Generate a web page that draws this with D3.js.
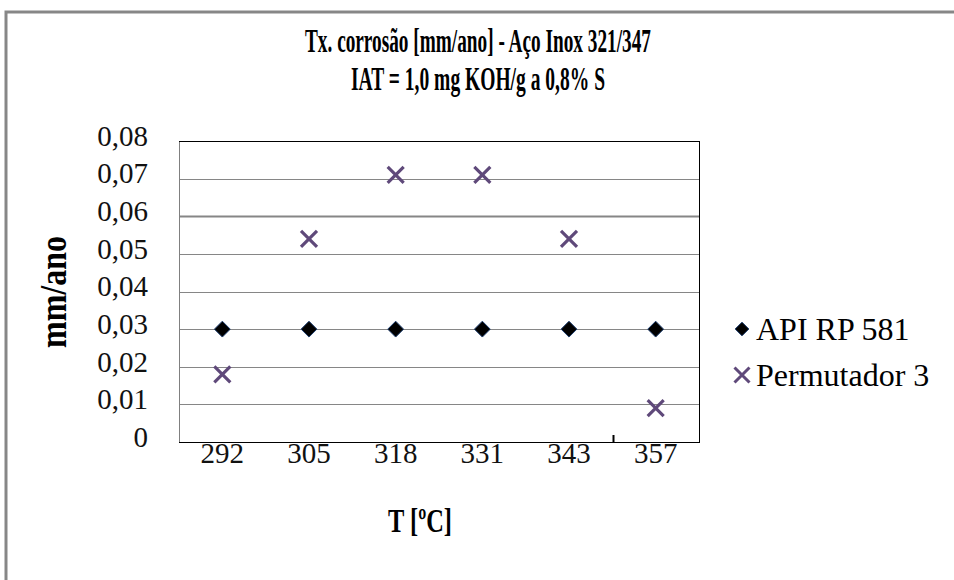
<!DOCTYPE html>
<html>
<head>
<meta charset="utf-8">
<script src="https://cdn.jsdelivr.net/npm/d3@7"></script>
<style>
  html, body { margin: 0; padding: 0; background: #fff; }
  svg { display: block; }
  svg text { font-family: "Liberation Serif", "Times New Roman", Times, serif; }
</style>
</head>
<body>
<svg id="chart" width="954" height="580"></svg>
<script>
// Corrosion rate per temperature, stainless steel 321/347
const temperatures = ["292", "305", "318", "331", "343", "357"];
const apiRp581 = [0.03, 0.03, 0.03, 0.03, 0.03, 0.03];
const permutador3 = [0.018, 0.054, 0.071, 0.071, 0.054, 0.009];
const yTicks = [0, 0.01, 0.02, 0.03, 0.04, 0.05, 0.06, 0.07, 0.08];
const seriesNames = ["API RP 581", "Permutador 3"];

const svg = d3.select("#chart");
const plot = { left: 179, right: 699, top: 141, bottom: 442 };

const x = d3.scaleBand().domain(temperatures).range([plot.left, plot.right]);
const y = d3.scaleLinear().domain([0, 0.08]).range([plot.bottom, plot.top]);
const fmt = v => v === 0 ? "0" : d3.format(".2f")(v).replace(".", ",");

// outer chart frame
svg.append("rect")
  .attr("x", 6).attr("y", 12).attr("width", 1000).attr("height", 700)
  .attr("fill", "none").attr("stroke", "#878787").attr("stroke-width", 3);

// title
const title = svg.append("text")
  .attr("text-anchor", "middle").attr("font-weight", "bold").attr("font-size", 34)
  .attr("fill", "#000");
title.append("tspan").attr("x", 478).attr("y", 52)
  .attr("textLength", 346).attr("lengthAdjust", "spacingAndGlyphs")
  .text("Tx. corrosão [mm/ano] - Aço Inox 321/347");
title.append("tspan").attr("x", 478).attr("y", 90)
  .attr("textLength", 254).attr("lengthAdjust", "spacingAndGlyphs")
  .text("IAT = 1,0 mg KOH/g a 0,8% S");

// gridlines
svg.append("g").selectAll("line").data(yTicks.filter(d => d > 0 && d < 0.08)).join("line")
  .attr("x1", plot.left).attr("x2", plot.right)
  .attr("y1", d => Math.round(y(d)) + 0.5).attr("y2", d => Math.round(y(d)) + 0.5)
  .attr("stroke", "#868686").attr("stroke-width", d => d === 0.06 ? 2 : 1);

// plot frame
svg.append("rect")
  .attr("x", plot.left + 0.5).attr("y", plot.top + 0.5)
  .attr("width", plot.right - plot.left).attr("height", plot.bottom - plot.top)
  .attr("fill", "none").attr("stroke", "#000").attr("stroke-width", 1);
svg.append("line")
  .attr("x1", plot.left + 0.5).attr("x2", plot.left + 0.5)
  .attr("y1", plot.top + 1).attr("y2", plot.bottom)
  .attr("stroke", "#808080");

// y axis labels
const yAxis = d3.axisLeft(y).tickValues(yTicks).tickFormat(fmt).tickSize(0).tickPadding(31);
svg.append("g").attr("transform", `translate(${plot.left},-5)`).call(yAxis)
  .attr("font-family", null)
  .call(g => g.select(".domain").remove())
  .call(g => g.selectAll("text").attr("font-size", 29).attr("fill", "#111"));

// x axis labels
const xAxis = d3.axisBottom(x).tickSize(0).tickPadding(0);
svg.append("g").attr("transform", `translate(0,${plot.bottom})`).call(xAxis)
  .attr("font-family", null)
  .call(g => g.select(".domain").remove())
  .call(g => g.selectAll("text").attr("font-size", 29).attr("fill", "#111"));

// single category boundary tick on the x axis
svg.append("line")
  .attr("x1", Math.round(x(temperatures[5])) + 1.5).attr("x2", Math.round(x(temperatures[5])) + 1.5)
  .attr("y1", plot.bottom - 7).attr("y2", plot.bottom)
  .attr("stroke", "#000").attr("stroke-width", 2);

// axis titles
svg.append("text")
  .attr("transform", `translate(66,292) rotate(-90)`)
  .attr("text-anchor", "middle").attr("font-weight", "bold").attr("font-size", 38)
  .attr("textLength", 112).attr("lengthAdjust", "spacingAndGlyphs")
  .text("mm/ano");
svg.append("text")
  .attr("x", 420).attr("y", 532)
  .attr("text-anchor", "middle").attr("font-weight", "bold").attr("font-size", 34)
  .attr("textLength", 64).attr("lengthAdjust", "spacingAndGlyphs")
  .text("T [ºC]");

// marker shapes
const diamond = d3.symbol().type(d3.symbolDiamond2).size(160);
const cross = (cx, cy, r) => `M${cx - r},${cy - r}L${cx + r},${cy + r}M${cx - r},${cy + r}L${cx + r},${cy - r}`;
const xc = t => x(t) + x.bandwidth() / 2;

svg.append("g").selectAll("path").data(temperatures).join("path")
  .attr("d", (t, i) => cross(xc(t), y(permutador3[i]), 8))
  .attr("stroke", "#5f497a").attr("stroke-width", 3.2).attr("fill", "none");

svg.append("g").selectAll("path").data(temperatures).join("path")
  .attr("transform", (t, i) => `translate(${xc(t)},${y(apiRp581[i])})`)
  .attr("d", diamond)
  .attr("fill", "#000").attr("stroke", "#1f3f6f").attr("stroke-width", 1);

// legend
const legend = svg.append("g");
legend.append("path").attr("transform", "translate(742,329)").attr("d", d3.symbol().type(d3.symbolDiamond2).size(120))
  .attr("fill", "#000").attr("stroke", "#1f3f6f").attr("stroke-width", 1);
legend.append("path").attr("d", cross(742, 375, 7.5)).attr("stroke", "#5f497a").attr("stroke-width", 3).attr("fill", "none");
legend.selectAll("text").data(seriesNames).join("text")
  .attr("x", 756).attr("y", (d, i) => 340 + i * 46)
  .attr("font-size", 32).text(d => d);
</script>
</body>
</html>
